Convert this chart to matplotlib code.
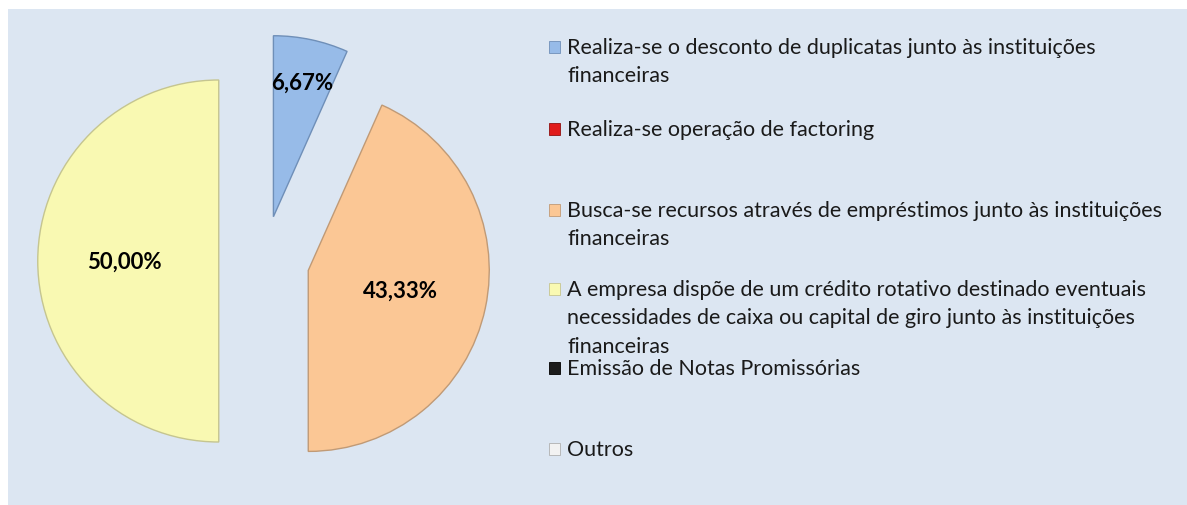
import numpy as np
import matplotlib.pyplot as plt
from matplotlib.patches import Rectangle

# Data
labels = [
    "Realiza-se o desconto de duplicatas junto às instituições\nfinanceiras",
    "Realiza-se operação de factoring",
    "Busca-se recursos através de empréstimos junto às instituições\nfinanceiras",
    "A empresa dispõe de um crédito rotativo destinado eventuais\nnecessidades de caixa ou capital de giro junto às instituições\nfinanceiras",
    "Emissão de Notas Promissórias",
    "Outros",
]
values = [6.67, 0, 43.33, 50.00, 0, 0]
colors = ["#97bbe8", "#e01b1b", "#fbc795", "#f9f9b2", "#1c1c1c", "#f2f2f2"]
edges = ["#6f8fb8", "#901010", "#c09a76", "#c5c590", "#000000", "#b0b0b0"]

W, H = 1187, 506
fig = plt.figure(figsize=(W / 100, H / 100), dpi=100)
fig.patch.set_facecolor("white")
fig.patches.append(Rectangle((8 / W, 0), 1 - 8 / W, 1 - 10 / H,
                             transform=fig.transFigure, facecolor="#dce6f2",
                             edgecolor="none", zorder=-5))

# pie axes: 1 data unit = radius = 181 px, centre at (264, 262) px from top-left
R = 181.0
cx, cy = 264, 262
x0, x1 = 8, 540
y0, y1 = 10, 500
ax = fig.add_axes([x0 / W, 1 - y1 / H, (x1 - x0) / W, (y1 - y0) / H])
ax.patch.set_alpha(0)


def fmt(p):
    return ("%.2f%%" % p).replace(".", ",") if p > 0.01 else ""


wedges, texts, autotexts = ax.pie(
    values, colors=colors, startangle=90, counterclock=False,
    explode=[0.25] * len(values), autopct=fmt, pctdistance=0.52,
    wedgeprops=dict(linewidth=1.0), frame=False, normalize=True,
    textprops=dict(fontsize=16, fontweight="bold", family="Lato", color="black"))
for w, e, v in zip(wedges, edges, values):
    w.set_edgecolor(e)
    if v == 0:
        w.set_visible(False)
ax.set_xlim((x0 - cx) / R, (x1 - cx) / R)
ax.set_ylim((cy - y1) / R, (cy - y0) / R)
ax.set_aspect("auto")
ax.axis("off")

# blue label sits further out
w0 = wedges[0]
mid = np.deg2rad((w0.theta1 + w0.theta2) / 2)
c0 = w0.center
autotexts[0].set_position((c0[0] + 0.76 * np.cos(mid), c0[1] + 0.76 * np.sin(mid)))

# legend, evenly spaced entries like Excel
entry_tops = [48, 130, 211, 290, 369, 450]
for lab, col, ed, yy in zip(labels, colors, edges, entry_tops):
    fig.patches.append(Rectangle((549 / W, 1 - (yy + 6) / H), 11 / W, 12 / H,
                                 transform=fig.transFigure, facecolor=col,
                                 edgecolor=ed, linewidth=0.6, zorder=3))
    fig.text(567 / W, 1 - (yy + 6) / H, lab.split("\n")[0], fontsize=15.5,
             family="Lato", color="#1a1a1a", va="baseline", ha="left")
    for k, extra in enumerate(lab.split("\n")[1:]):
        fig.text(567 / W, 1 - (yy + 6 + 28.5 * (k + 1)) / H, extra, fontsize=15.5,
                 family="Lato", color="#1a1a1a", va="baseline", ha="left")

fig.savefig("out.png", dpi=100, facecolor=fig.get_facecolor())
